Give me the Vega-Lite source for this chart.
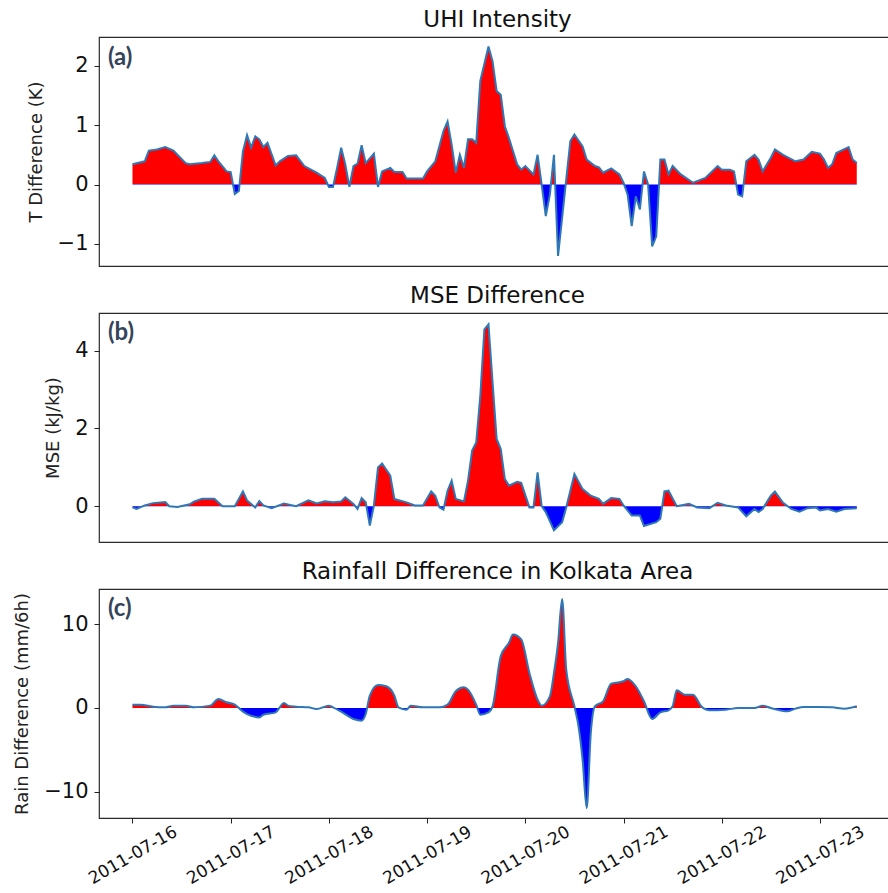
{
  "$schema": "https://vega.github.io/schema/vega-lite/v6.json",
  "padding": {"left": 13, "top": 8, "right": 0, "bottom": 0},
  "spacing": 17,
  "config": {
    "font": "DejaVu Sans",
    "view": {"stroke": "#2b2b2b", "strokeWidth": 1.2},
    "axis": {"domain": false, "grid": false, "tickColor": "#222", "tickSize": 5, "labelColor": "#111", "titleColor": "#222", "titleFontWeight": "normal", "labelFont": "DejaVu Sans", "titleFont": "DejaVu Sans"},
    "axisY": {"labelFontSize": 21, "titleFontSize": 18, "labelPadding": 6, "titlePadding": 12},
    "title": {"fontSize": 23, "fontWeight": "normal", "font": "DejaVu Sans", "color": "#111", "baseline": "alphabetic", "offset": 5, "anchor": "middle", "dx": 1}
  },
  "datasets": {
    "a": [
      {"t":"2011-07-16T00:00","v":0.34},{"t":"2011-07-16T03:00","v":0.39},{"t":"2011-07-16T04:00","v":0.57},{"t":"2011-07-16T06:00","v":0.59},{"t":"2011-07-16T08:00","v":0.63},{"t":"2011-07-16T10:00","v":0.57},{"t":"2011-07-16T13:00","v":0.36},{"t":"2011-07-16T14:00","v":0.34},{"t":"2011-07-16T17:00","v":0.36},{"t":"2011-07-16T19:00","v":0.38},{"t":"2011-07-16T20:00","v":0.49},{"t":"2011-07-16T21:00","v":0.39},{"t":"2011-07-16T23:00","v":0.22},
      {"t":"2011-07-17T00:00","v":0.21},{"t":"2011-07-17T01:00","v":-0.16},{"t":"2011-07-17T02:00","v":-0.11},{"t":"2011-07-17T03:00","v":0.56},{"t":"2011-07-17T04:00","v":0.83},{"t":"2011-07-17T05:00","v":0.62},{"t":"2011-07-17T06:00","v":0.81},{"t":"2011-07-17T07:00","v":0.76},{"t":"2011-07-17T08:00","v":0.63},{"t":"2011-07-17T09:00","v":0.70},{"t":"2011-07-17T11:00","v":0.32},{"t":"2011-07-17T12:00","v":0.39},{"t":"2011-07-17T14:00","v":0.48},{"t":"2011-07-17T16:00","v":0.49},{"t":"2011-07-17T18:00","v":0.31},{"t":"2011-07-17T21:00","v":0.20},{"t":"2011-07-17T23:00","v":0.11},
      {"t":"2011-07-18T00:00","v":-0.04},{"t":"2011-07-18T01:00","v":-0.04},{"t":"2011-07-18T02:00","v":0.28},{"t":"2011-07-18T03:00","v":0.62},{"t":"2011-07-18T04:00","v":0.34},{"t":"2011-07-18T05:00","v":-0.04},{"t":"2011-07-18T06:00","v":0.31},{"t":"2011-07-18T07:00","v":0.35},{"t":"2011-07-18T08:00","v":0.66},{"t":"2011-07-18T09:00","v":0.36},{"t":"2011-07-18T11:00","v":0.52},{"t":"2011-07-18T12:00","v":-0.04},{"t":"2011-07-18T13:00","v":0.22},{"t":"2011-07-18T15:00","v":0.28},{"t":"2011-07-18T16:00","v":0.21},{"t":"2011-07-18T18:00","v":0.21},{"t":"2011-07-18T19:00","v":0.10},{"t":"2011-07-18T23:00","v":0.10},
      {"t":"2011-07-19T00:00","v":0.22},{"t":"2011-07-19T02:00","v":0.39},{"t":"2011-07-19T04:00","v":0.90},{"t":"2011-07-19T05:00","v":1.06},{"t":"2011-07-19T06:00","v":0.67},{"t":"2011-07-19T07:00","v":0.20},{"t":"2011-07-19T08:00","v":0.50},{"t":"2011-07-19T09:00","v":0.28},{"t":"2011-07-19T10:00","v":0.76},{"t":"2011-07-19T11:00","v":0.76},{"t":"2011-07-19T12:00","v":0.70},{"t":"2011-07-19T13:00","v":1.74},{"t":"2011-07-19T15:00","v":2.32},{"t":"2011-07-19T16:00","v":2.07},{"t":"2011-07-19T17:00","v":1.57},{"t":"2011-07-19T18:00","v":1.51},{"t":"2011-07-19T19:00","v":0.98},{"t":"2011-07-19T20:00","v":0.78},{"t":"2011-07-19T22:00","v":0.34},{"t":"2011-07-19T23:00","v":0.25},
      {"t":"2011-07-20T00:00","v":0.31},{"t":"2011-07-20T02:00","v":0.17},{"t":"2011-07-20T03:00","v":0.50},{"t":"2011-07-20T04:00","v":0.00},{"t":"2011-07-20T05:00","v":-0.53},{"t":"2011-07-20T06:00","v":-0.17},{"t":"2011-07-20T07:00","v":0.50},{"t":"2011-07-20T08:00","v":-1.20},{"t":"2011-07-20T11:00","v":0.73},{"t":"2011-07-20T12:00","v":0.84},{"t":"2011-07-20T14:00","v":0.64},{"t":"2011-07-20T15:00","v":0.42},{"t":"2011-07-20T17:00","v":0.31},{"t":"2011-07-20T18:00","v":0.29},{"t":"2011-07-20T19:00","v":0.20},{"t":"2011-07-20T21:00","v":0.27},{"t":"2011-07-20T23:00","v":0.17},
      {"t":"2011-07-21T00:00","v":0.03},{"t":"2011-07-21T01:00","v":-0.17},{"t":"2011-07-21T02:00","v":-0.70},{"t":"2011-07-21T03:00","v":-0.20},{"t":"2011-07-21T04:00","v":-0.42},{"t":"2011-07-21T05:00","v":0.22},{"t":"2011-07-21T06:00","v":0.00},{"t":"2011-07-21T07:00","v":-1.04},{"t":"2011-07-21T08:00","v":-0.87},{"t":"2011-07-21T09:00","v":0.42},{"t":"2011-07-21T10:00","v":0.42},{"t":"2011-07-21T11:00","v":0.17},{"t":"2011-07-21T12:00","v":0.31},{"t":"2011-07-21T14:00","v":0.17},{"t":"2011-07-21T17:00","v":0.03},{"t":"2011-07-21T20:00","v":0.11},{"t":"2011-07-21T23:00","v":0.31},
      {"t":"2011-07-22T00:00","v":0.25},{"t":"2011-07-22T02:00","v":0.25},{"t":"2011-07-22T03:00","v":0.22},{"t":"2011-07-22T04:00","v":-0.17},{"t":"2011-07-22T05:00","v":-0.20},{"t":"2011-07-22T06:00","v":0.39},{"t":"2011-07-22T08:00","v":0.50},{"t":"2011-07-22T09:00","v":0.42},{"t":"2011-07-22T10:00","v":0.22},{"t":"2011-07-22T12:00","v":0.45},{"t":"2011-07-22T13:00","v":0.59},{"t":"2011-07-22T15:00","v":0.50},{"t":"2011-07-22T18:00","v":0.39},{"t":"2011-07-22T20:00","v":0.42},{"t":"2011-07-22T22:00","v":0.55},
      {"t":"2011-07-23T00:00","v":0.52},{"t":"2011-07-23T01:00","v":0.42},{"t":"2011-07-23T02:00","v":0.28},{"t":"2011-07-23T03:00","v":0.34},{"t":"2011-07-23T04:00","v":0.53},{"t":"2011-07-23T07:00","v":0.63},{"t":"2011-07-23T08:00","v":0.42},{"t":"2011-07-23T09:00","v":0.36}
    ],
    "b": [
      {"t":"2011-07-16T00:00","v":-0.03},{"t":"2011-07-16T01:00","v":-0.07},{"t":"2011-07-16T03:00","v":0.02},{"t":"2011-07-16T05:00","v":0.08},{"t":"2011-07-16T08:00","v":0.11},{"t":"2011-07-16T09:00","v":0.00},{"t":"2011-07-16T11:00","v":-0.02},{"t":"2011-07-16T14:00","v":0.05},{"t":"2011-07-16T15:00","v":0.12},{"t":"2011-07-16T17:00","v":0.19},{"t":"2011-07-16T20:00","v":0.19},{"t":"2011-07-16T22:00","v":0.00},
      {"t":"2011-07-17T01:00","v":0.00},{"t":"2011-07-17T03:00","v":0.38},{"t":"2011-07-17T04:00","v":0.15},{"t":"2011-07-17T06:00","v":-0.03},{"t":"2011-07-17T07:00","v":0.13},{"t":"2011-07-17T08:00","v":0.02},{"t":"2011-07-17T10:00","v":-0.05},{"t":"2011-07-17T13:00","v":0.07},{"t":"2011-07-17T16:00","v":0.00},{"t":"2011-07-17T19:00","v":0.15},{"t":"2011-07-17T21:00","v":0.07},{"t":"2011-07-17T23:00","v":0.13},
      {"t":"2011-07-18T01:00","v":0.10},{"t":"2011-07-18T03:00","v":0.12},{"t":"2011-07-18T04:00","v":0.23},{"t":"2011-07-18T06:00","v":0.06},{"t":"2011-07-18T07:00","v":-0.07},{"t":"2011-07-18T08:00","v":0.21},{"t":"2011-07-18T09:00","v":0.10},{"t":"2011-07-18T10:00","v":-0.50},{"t":"2011-07-18T11:00","v":0.02},{"t":"2011-07-18T12:00","v":1.00},{"t":"2011-07-18T13:00","v":1.10},{"t":"2011-07-18T15:00","v":0.79},{"t":"2011-07-18T16:00","v":0.19},{"t":"2011-07-18T19:00","v":0.10},{"t":"2011-07-18T21:00","v":0.02},{"t":"2011-07-18T23:00","v":0.02},
      {"t":"2011-07-19T01:00","v":0.38},{"t":"2011-07-19T02:00","v":0.27},{"t":"2011-07-19T03:00","v":-0.03},{"t":"2011-07-19T04:00","v":-0.09},{"t":"2011-07-19T05:00","v":0.40},{"t":"2011-07-19T06:00","v":0.66},{"t":"2011-07-19T07:00","v":0.19},{"t":"2011-07-19T09:00","v":0.12},{"t":"2011-07-19T10:00","v":0.66},{"t":"2011-07-19T11:00","v":1.43},{"t":"2011-07-19T12:00","v":1.64},{"t":"2011-07-19T13:00","v":2.84},{"t":"2011-07-19T14:00","v":4.55},{"t":"2011-07-19T15:00","v":4.68},{"t":"2011-07-19T16:00","v":3.18},{"t":"2011-07-19T17:00","v":1.73},{"t":"2011-07-19T18:00","v":1.47},{"t":"2011-07-19T19:00","v":0.70},{"t":"2011-07-19T20:00","v":0.53},{"t":"2011-07-19T22:00","v":0.63},{"t":"2011-07-19T23:00","v":0.60},
      {"t":"2011-07-20T01:00","v":-0.03},{"t":"2011-07-20T02:00","v":-0.03},{"t":"2011-07-20T03:00","v":0.87},{"t":"2011-07-20T04:00","v":0.00},{"t":"2011-07-20T05:00","v":-0.15},{"t":"2011-07-20T07:00","v":-0.62},{"t":"2011-07-20T09:00","v":-0.41},{"t":"2011-07-20T10:00","v":-0.03},{"t":"2011-07-20T12:00","v":0.83},{"t":"2011-07-20T14:00","v":0.44},{"t":"2011-07-20T16:00","v":0.27},{"t":"2011-07-20T18:00","v":0.19},{"t":"2011-07-20T19:00","v":0.06},{"t":"2011-07-20T21:00","v":0.21},{"t":"2011-07-20T23:00","v":0.19},
      {"t":"2011-07-21T00:00","v":0.02},{"t":"2011-07-21T02:00","v":-0.24},{"t":"2011-07-21T04:00","v":-0.24},{"t":"2011-07-21T05:00","v":-0.51},{"t":"2011-07-21T08:00","v":-0.41},{"t":"2011-07-21T09:00","v":-0.32},{"t":"2011-07-21T10:00","v":0.38},{"t":"2011-07-21T11:00","v":0.40},{"t":"2011-07-21T13:00","v":0.00},{"t":"2011-07-21T16:00","v":0.06},{"t":"2011-07-21T18:00","v":-0.03},{"t":"2011-07-21T21:00","v":-0.05},{"t":"2011-07-21T23:00","v":0.09},
      {"t":"2011-07-22T01:00","v":0.02},{"t":"2011-07-22T04:00","v":-0.03},{"t":"2011-07-22T06:00","v":-0.26},{"t":"2011-07-22T08:00","v":-0.07},{"t":"2011-07-22T09:00","v":-0.15},{"t":"2011-07-22T10:00","v":-0.07},{"t":"2011-07-22T12:00","v":0.27},{"t":"2011-07-22T13:00","v":0.38},{"t":"2011-07-22T15:00","v":0.09},{"t":"2011-07-22T17:00","v":-0.07},{"t":"2011-07-22T19:00","v":-0.14},{"t":"2011-07-22T21:00","v":-0.05},{"t":"2011-07-22T23:00","v":-0.03},
      {"t":"2011-07-23T00:00","v":-0.11},{"t":"2011-07-23T02:00","v":-0.07},{"t":"2011-07-23T04:00","v":-0.14},{"t":"2011-07-23T06:00","v":-0.07},{"t":"2011-07-23T09:00","v":-0.05}
    ],
    "c": [
      {"t":"2011-07-16T00:00","v":0.40},{"t":"2011-07-16T02:00","v":0.40},{"t":"2011-07-16T05:00","v":0.16},{"t":"2011-07-16T08:00","v":0.08},{"t":"2011-07-16T10:00","v":0.28},{"t":"2011-07-16T13:00","v":0.28},{"t":"2011-07-16T15:00","v":0.08},{"t":"2011-07-16T19:00","v":0.28},{"t":"2011-07-16T21:00","v":1.08},{"t":"2011-07-16T23:00","v":0.68},
      {"t":"2011-07-17T01:00","v":0.40},{"t":"2011-07-17T03:00","v":-0.44},{"t":"2011-07-17T04:00","v":-0.72},{"t":"2011-07-17T07:00","v":-1.12},{"t":"2011-07-17T08:00","v":-0.80},{"t":"2011-07-17T11:00","v":-0.52},{"t":"2011-07-17T12:00","v":0.08},{"t":"2011-07-17T13:00","v":0.60},{"t":"2011-07-17T14:00","v":0.28},{"t":"2011-07-17T16:00","v":0.16},{"t":"2011-07-17T19:00","v":0.08},{"t":"2011-07-17T21:00","v":-0.12},
      {"t":"2011-07-18T00:00","v":0.28},{"t":"2011-07-18T01:00","v":0.08},{"t":"2011-07-18T03:00","v":-0.44},{"t":"2011-07-18T06:00","v":-1.31},{"t":"2011-07-18T08:00","v":-1.51},{"t":"2011-07-18T09:00","v":-0.72},{"t":"2011-07-18T10:00","v":1.47},{"t":"2011-07-18T12:00","v":2.75},{"t":"2011-07-18T14:00","v":2.59},{"t":"2011-07-18T16:00","v":1.47},{"t":"2011-07-18T17:00","v":0.08},{"t":"2011-07-18T19:00","v":-0.20},{"t":"2011-07-18T20:00","v":0.28},{"t":"2011-07-18T23:00","v":0.08},
      {"t":"2011-07-19T03:00","v":0.08},{"t":"2011-07-19T05:00","v":0.40},{"t":"2011-07-19T07:00","v":2.00},{"t":"2011-07-19T09:00","v":2.47},{"t":"2011-07-19T10:00","v":2.19},{"t":"2011-07-19T12:00","v":0.40},{"t":"2011-07-19T13:00","v":-0.80},{"t":"2011-07-19T15:00","v":-0.52},{"t":"2011-07-19T16:00","v":0.20},{"t":"2011-07-19T18:00","v":6.18},{"t":"2011-07-19T20:00","v":7.77},{"t":"2011-07-19T21:00","v":8.76},{"t":"2011-07-19T23:00","v":8.17},
      {"t":"2011-07-20T01:00","v":4.18},{"t":"2011-07-20T03:00","v":1.00},{"t":"2011-07-20T04:00","v":0.28},{"t":"2011-07-20T06:00","v":1.39},{"t":"2011-07-20T07:00","v":4.18},{"t":"2011-07-20T08:00","v":7.77},{"t":"2011-07-20T09:00","v":13.0},{"t":"2011-07-20T10:00","v":4.58},{"t":"2011-07-20T12:00","v":0.20},{"t":"2011-07-20T13:00","v":-2.19},{"t":"2011-07-20T14:00","v":-6.18},{"t":"2011-07-20T15:00","v":-11.95},{"t":"2011-07-20T16:00","v":-2.99},{"t":"2011-07-20T17:00","v":0.20},{"t":"2011-07-20T19:00","v":0.80},{"t":"2011-07-20T21:00","v":2.91},{"t":"2011-07-20T23:00","v":3.07},
      {"t":"2011-07-21T00:00","v":3.19},{"t":"2011-07-21T01:00","v":3.47},{"t":"2011-07-21T03:00","v":2.59},{"t":"2011-07-21T05:00","v":0.80},{"t":"2011-07-21T07:00","v":-1.31},{"t":"2011-07-21T09:00","v":-0.52},{"t":"2011-07-21T11:00","v":-0.28},{"t":"2011-07-21T12:00","v":0.20},{"t":"2011-07-21T13:00","v":2.11},{"t":"2011-07-21T15:00","v":1.59},{"t":"2011-07-21T17:00","v":1.59},{"t":"2011-07-21T19:00","v":0.20},{"t":"2011-07-21T21:00","v":-0.28},
      {"t":"2011-07-22T01:00","v":-0.20},{"t":"2011-07-22T04:00","v":0.00},{"t":"2011-07-22T08:00","v":0.00},{"t":"2011-07-22T10:00","v":0.28},{"t":"2011-07-22T12:00","v":0.00},{"t":"2011-07-22T16:00","v":-0.40},{"t":"2011-07-22T18:00","v":-0.08},{"t":"2011-07-22T20:00","v":0.12},
      {"t":"2011-07-23T00:00","v":0.12},{"t":"2011-07-23T03:00","v":0.08},{"t":"2011-07-23T06:00","v":-0.08},{"t":"2011-07-23T09:00","v":0.20}
    ]
  },
  "vconcat": [
    {
      "title": "UHI Intensity",
      "width": 795, "height": 229,
      "data": {"name": "a"},
      "encoding": {
        "x": {"field": "t", "type": "temporal", "scale": {"domain": [{"year": 2011, "month": 7, "date": 15, "hours": 15, "minutes": 49}, {"year": 2011, "month": 7, "date": 23, "hours": 18, "minutes": 6}]}, "axis": null},
        "y": {"field": "v", "type": "quantitative", "scale": {"domain": [-1.37, 2.48], "nice": false, "zero": false}, "axis": {"values": [-1, 0, 1, 2], "title": "T Difference (K)"}}
      },
      "layer": [
        {"mark": {"type": "area", "fill": {"gradient": "linear", "x1": 0, "y1": 0, "x2": 0, "y2": 1, "stops": [{"offset": 0, "color": "#ff0000"}, {"offset": 0.659, "color": "#ff0000"}, {"offset": 0.659, "color": "#0000ff"}, {"offset": 1, "color": "#0000ff"}]}}, "encoding": {"y2": {"datum": 0}}},
        {"mark": {"type": "line", "color": "#2f78b5", "strokeWidth": 2}, "encoding": {}},
        {"data": {"values": [{"t": "2011-07-15T18:00", "v": 2.12, "label": "(a)"}]}, "mark": {"type": "text", "align": "left", "baseline": "middle", "font": "Lato", "fontWeight": "bold", "fontSize": 24, "color": "#34445a"}, "encoding": {"text": {"field": "label"}}}
      ]
    },
    {
      "title": "MSE Difference",
      "width": 795, "height": 229,
      "data": {"name": "b"},
      "encoding": {
        "x": {"field": "t", "type": "temporal", "scale": {"domain": [{"year": 2011, "month": 7, "date": 15, "hours": 15, "minutes": 49}, {"year": 2011, "month": 7, "date": 23, "hours": 18, "minutes": 6}]}, "axis": null},
        "y": {"field": "v", "type": "quantitative", "scale": {"domain": [-0.92, 4.97], "nice": false, "zero": false}, "axis": {"values": [0, 2, 4], "title": "MSE (kJ/kg)"}}
      },
      "layer": [
        {"mark": {"type": "area", "fill": {"gradient": "linear", "x1": 0, "y1": 0, "x2": 0, "y2": 1, "stops": [{"offset": 0, "color": "#ff0000"}, {"offset": 0.883, "color": "#ff0000"}, {"offset": 0.883, "color": "#0000ff"}, {"offset": 1, "color": "#0000ff"}]}}, "encoding": {"y2": {"datum": 0}}},
        {"mark": {"type": "line", "color": "#2f78b5", "strokeWidth": 2}, "encoding": {}},
        {"data": {"values": [{"t": "2011-07-15T18:00", "v": 4.46, "label": "(b)"}]}, "mark": {"type": "text", "align": "left", "baseline": "middle", "font": "Lato", "fontWeight": "bold", "fontSize": 24, "color": "#34445a"}, "encoding": {"text": {"field": "label"}}}
      ]
    },
    {
      "title": "Rainfall Difference in Kolkata Area",
      "width": 795, "height": 229,
      "data": {"name": "c"},
      "encoding": {
        "x": {"field": "t", "type": "temporal", "scale": {"domain": [{"year": 2011, "month": 7, "date": 15, "hours": 15, "minutes": 49}, {"year": 2011, "month": 7, "date": 23, "hours": 18, "minutes": 6}]}, "axis": {"format": "%Y-%m-%d", "tickCount": {"interval": "day", "step": 1}, "labelAngle": -30, "labelAlign": "center", "labelBaseline": "middle", "labelPadding": 32, "labelFontSize": 17, "title": null, "labelOverlap": false, "labelFlush": false, "labelBound": false}},
        "y": {"field": "v", "type": "quantitative", "scale": {"domain": [-13.12, 14.19], "nice": false, "zero": false}, "axis": {"values": [-10, 0, 10], "title": "Rain Difference (mm/6h)"}}
      },
      "layer": [
        {"mark": {"type": "area", "interpolate": "monotone", "fill": {"gradient": "linear", "x1": 0, "y1": 0, "x2": 0, "y2": 1, "stops": [{"offset": 0, "color": "#ff0000"}, {"offset": 0.521, "color": "#ff0000"}, {"offset": 0.521, "color": "#0000ff"}, {"offset": 1, "color": "#0000ff"}]}}, "encoding": {"y2": {"datum": 0}}},
        {"mark": {"type": "line", "interpolate": "monotone", "color": "#2f78b5", "strokeWidth": 2}, "encoding": {}},
        {"data": {"values": [{"t": "2011-07-15T18:00", "v": 11.8, "label": "(c)"}]}, "mark": {"type": "text", "align": "left", "baseline": "middle", "font": "Lato", "fontWeight": "bold", "fontSize": 24, "color": "#34445a"}, "encoding": {"text": {"field": "label"}}}
      ]
    }
  ]
}
